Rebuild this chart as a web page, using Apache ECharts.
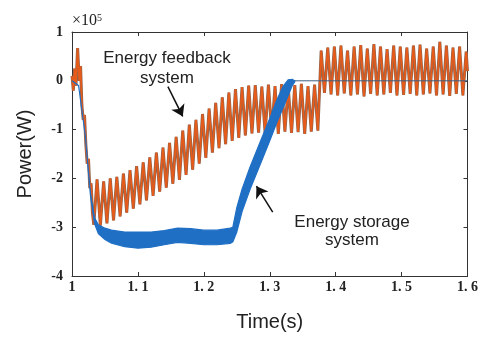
<!DOCTYPE html>
<html>
<head>
<meta charset="utf-8">
<script src="https://cdn.jsdelivr.net/npm/echarts@6/dist/echarts.min.js"></script>
<style>
  html, body { margin: 0; padding: 0; background: #fff; }
  #chart { width: 481px; height: 337px; }
</style>
</head>
<body>
<div id="chart"></div>
<script>
// ---- data (x10^5 W) ----
// feedback system: start of the transient
var feedStartT = [1.000, 1.002, 1.004, 1.006, 1.0085, 1.011, 1.013, 1.015, 1.017, 1.019, 1.021, 1.023, 1.025, 1.027, 1.029, 1.031];
var feedStartV = [0.10, -0.20, 0.25, -0.10, 0.67, 0.00, 0.30, -0.50, -0.80, -0.70, -1.30, -1.70, -1.60, -2.20, -2.10, -2.70];

// feedback system: ripple 1.033 .. 1.373 s, one trough / peak every 10 ms
var feedTroughT0 = 1.033, feedPeakT0 = 1.038, feedStep = 0.01;
var feedTroughs1 = [-2.95, -2.97, -2.92, -2.86, -2.78, -2.70, -2.62, -2.53, -2.45, -2.36,
                    -2.27, -2.19, -2.11, -2.03, -1.93, -1.82, -1.70, -1.58, -1.47, -1.38,
                    -1.30, -1.23, -1.17, -1.12, -1.08, -1.06, -1.08, -1.05, -1.09, -1.04,
                    -1.07, -1.05, -1.09, -1.04, -1.02];
var feedPeaks1 = [-2.02, -2.06, -2.00, -1.97, -1.90, -1.83, -1.75, -1.67, -1.57, -1.47,
                  -1.37, -1.27, -1.15, -1.02, -0.90, -0.80, -0.68, -0.57, -0.45, -0.34,
                  -0.24, -0.17, -0.13, -0.10, -0.09, -0.12, -0.08, -0.11, -0.07, -0.12,
                  -0.09, -0.06, -0.11, -0.08];

// feedback system: ripple after 1.375 s
var feedPeak2T0 = 1.378, feedTrough2T0 = 1.383;
var feedPeaks2 = [0.62, 0.68, 0.70, 0.72, 0.62, 0.70, 0.73, 0.66, 0.75, 0.70, 0.65, 0.72,
                  0.70, 0.68, 0.72, 0.74, 0.66, 0.70, 0.80, 0.72, 0.68, 0.70, 0.60];
var feedTroughs2 = [-0.25, -0.28, -0.30, -0.26, -0.30, -0.28, -0.32, -0.27, -0.30, -0.28, -0.25,
                    -0.30, -0.29, -0.27, -0.30, -0.28, -0.26, -0.30, -0.28, -0.31, -0.27, -0.30];
var feedEnd = [1.600, 0.20];

// storage system: band (upper / lower edge)
var storeT     = [1.000, 1.010, 1.020, 1.028, 1.034, 1.040, 1.050, 1.060, 1.080, 1.100, 1.120, 1.140, 1.160, 1.180, 1.200, 1.220, 1.240, 1.244, 1.250, 1.258, 1.270, 1.285, 1.300, 1.310, 1.320, 1.328, 1.334, 1.338];
var storeUpper = [0.00, -0.10, -1.10, -2.30, -2.80, -2.95, -3.02, -3.06, -3.10, -3.10, -3.10, -3.07, -3.02, -3.03, -3.06, -3.06, -3.02, -3.00, -2.60, -2.22, -1.77, -1.27, -0.77, -0.42, -0.12, 0.02, 0.03, 0.00];
var storeLower = [0.00, -0.10, -1.10, -2.35, -2.92, -3.13, -3.25, -3.33, -3.40, -3.43, -3.41, -3.36, -3.31, -3.33, -3.36, -3.36, -3.33, -3.30, -3.10, -2.68, -2.23, -1.73, -1.23, -0.88, -0.56, -0.30, -0.10, -0.02];
var storeTailT = [1.338, 1.600];
var storeTailV = [0.00, 0.00];

// ---- build series data ----
var feedData = [];
feedStartT.forEach(function (t, i) { feedData.push([t, feedStartV[i]]); });
feedTroughs1.forEach(function (v, i) {
    feedData.push([feedTroughT0 + i * feedStep, v]);
    if (i < feedPeaks1.length) feedData.push([feedPeakT0 + i * feedStep, feedPeaks1[i]]);
});
feedPeaks2.forEach(function (v, i) {
    feedData.push([feedPeak2T0 + i * feedStep, v]);
    if (i < feedTroughs2.length) feedData.push([feedTrough2T0 + i * feedStep, feedTroughs2[i]]);
});
feedData.push(feedEnd);

var storeData = storeT.map(function (t, i) { return [t, storeUpper[i], storeLower[i]]; });
var storeTailData = storeTailT.map(function (t, i) { return [t, storeTailV[i]]; });

var blue = '#1f6fc5';
var tickFont = { fontFamily: 'Liberation Serif', fontWeight: 'bold', fontSize: 14, color: '#222' };

// band of the storage curve: polygon upper edge -> lower edge, through the axes
function renderBand(params, api) {
    if (params.dataIndex !== 0) return;
    var pts = [];
    for (var i = 0; i < storeData.length; i++) pts.push(api.coord([storeData[i][0], storeData[i][1]]));
    for (var j = storeData.length - 1; j >= 0; j--) pts.push(api.coord([storeData[j][0], storeData[j][2]]));
    return {
        type: 'polygon',
        shape: { points: pts },
        style: { fill: blue, stroke: blue, lineWidth: 1.2 }
    };
}

var chart = echarts.init(document.getElementById('chart'));
chart.setOption({
    animation: false,
    backgroundColor: '#fff',
    grid: { left: 72, top: 32, width: 396, height: 244 },
    xAxis: [{
        type: 'value', min: 1, max: 1.6, interval: 0.1,
        axisLine: { onZero: false, lineStyle: { color: '#333', width: 1 } },
        axisTick: { inside: true, length: 4, lineStyle: { color: '#333' } },
        splitLine: { show: false },
        axisLabel: Object.assign({
            margin: 4,
            formatter: function (v) {
                var s = Math.round(v * 10) / 10;
                return s === 1 ? '1' : s.toFixed(1).replace('.', '. ');
            },
            showMinLabel: true, showMaxLabel: true
        }, tickFont),
        name: 'Time(s)', nameLocation: 'middle', nameGap: 36,
        nameTextStyle: { fontFamily: 'Liberation Sans', fontSize: 20, color: '#222' }
    }, {
        type: 'value', min: 1, max: 1.6, interval: 0.1, position: 'top',
        axisLine: { onZero: false, lineStyle: { color: '#333', width: 1 } },
        axisTick: { inside: true, length: 4, lineStyle: { color: '#333' } },
        axisLabel: { show: false },
        splitLine: { show: false }
    }],
    yAxis: [{
        type: 'value', min: -4, max: 1, interval: 1,
        axisLine: { show: true, onZero: false, lineStyle: { color: '#333', width: 1 } },
        axisTick: { show: true, inside: true, length: 4, lineStyle: { color: '#333' } },
        splitLine: { show: false },
        axisLabel: Object.assign({ margin: 9 }, tickFont),
        name: 'Power(W)', nameLocation: 'middle', nameGap: 37,
        nameTextStyle: { fontFamily: 'Liberation Sans', fontSize: 20, color: '#222' }
    }, {
        type: 'value', min: -4, max: 1, interval: 1, position: 'right',
        axisLine: { show: true, onZero: false, lineStyle: { color: '#333', width: 1 } },
        axisTick: { show: true, inside: true, length: 4, lineStyle: { color: '#333' } },
        axisLabel: { show: false },
        splitLine: { show: false }
    }],
    graphic: [{
        type: 'text', left: 72, top: 13,
        style: {
            text: '{a|×10}{b|5}',
            rich: {
                a: { fontFamily: 'Liberation Serif', fontSize: 16, fill: '#222' },
                b: { fontFamily: 'Liberation Serif', fontSize: 10, fill: '#222', verticalAlign: 'top', lineHeight: 10 }
            }
        }
    }, {
        type: 'text', x: 167, y: 48,
        style: {
            text: 'Energy feedback\nsystem', textAlign: 'center', textVerticalAlign: 'top',
            fontFamily: 'Liberation Sans', fontSize: 17, lineHeight: 20, fill: '#222'
        }
    }, {
        type: 'text', x: 352, y: 213,
        style: {
            text: 'Energy storage\nsystem', textAlign: 'center', textVerticalAlign: 'top',
            fontFamily: 'Liberation Sans', fontSize: 17, lineHeight: 18, fill: '#222'
        }
    }],
    series: [{
        name: 'feedback edge', type: 'line', data: feedData, showSymbol: false,
        lineStyle: { color: '#8f6550', width: 3 }, z: 2
    }, {
        name: 'Energy feedback system', type: 'line', data: feedData, showSymbol: false,
        lineStyle: { color: '#e65a1a', width: 1.7 }, z: 3
    }, {
        name: 'Energy storage system', type: 'custom', data: storeData,
        renderItem: renderBand, encode: { x: 0, y: [1, 2] }, z: 4
    }, {
        name: 'storage tail', type: 'line', data: storeTailData, showSymbol: false,
        lineStyle: { color: '#3d5f82', width: 1 }, z: 5,
        markLine: {
            silent: true, symbol: ['none', 'arrow'], symbolSize: 11,
            lineStyle: { color: '#111', width: 1.5, type: 'solid' },
            label: { show: false },
            data: [
                [{ coord: [1.1455, -0.12] }, { coord: [1.168, -0.73] }],
                [{ coord: [1.3045, -2.69] }, { coord: [1.2798, -2.16] }]
            ]
        }
    }]
});
</script>
</body>
</html>
